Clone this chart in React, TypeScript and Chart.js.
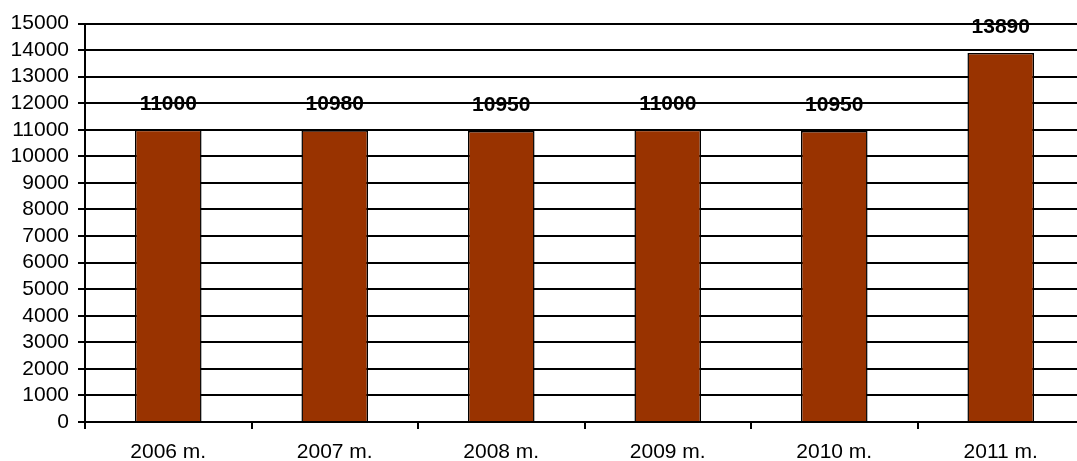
import React, { useEffect, useRef } from "react";
import { Chart, registerables } from "chart.js";

Chart.register(...registerables);

const categories = ["2006 m.", "2007 m.", "2008 m.", "2009 m.", "2010 m.", "2011 m."];
const values = [11000, 10980, 10950, 11000, 10950, 13890];
const valueLabels = ["11000", "10980", "10950", "11000", "10950", "13890"];
const yMin = 0;
const yMax = 15000;
const yStep = 1000;

const FONT = "'Liberation Sans', Arial, sans-serif";

const labelPlugin = {
  id: "valueLabels",
  afterDatasetsDraw(chart: any) {
    const ctx = chart.ctx;
    const meta = chart.getDatasetMeta(0);
    ctx.save();
    ctx.font = `bold 21px ${FONT}`;
    ctx.fillStyle = "#000";
    ctx.textAlign = "center";
    ctx.textBaseline = "middle";
    meta.data.forEach((bar: any, i: number) => {
      ctx.fillText(valueLabels[i], bar.x, bar.y - 26);
    });
    ctx.restore();
  },
};

export default function App() {
  const ref = useRef<HTMLCanvasElement>(null);
  useEffect(() => {
    if (!ref.current) return;
    const chart = new Chart(ref.current, {
      type: "bar",
      data: {
        labels: categories,
        datasets: [
          {
            data: values,
            backgroundColor: "#993300",
            borderColor: "#000",
            borderWidth: 1.5,
            categoryPercentage: 1,
            barPercentage: 0.4,
          },
        ],
      },
      options: {
        responsive: false,
        animation: false,
        layout: { padding: { top: 23.5, right: 1, left: 0, bottom: 0 } },
        plugins: { legend: { display: false }, tooltip: { enabled: false } },
        scales: {
          x: {
            grid: {
              offset: true,
              drawOnChartArea: false,
              color: "#000",
              lineWidth: 2,
              tickLength: 7,
            },
            border: { color: "#000", width: 2 },
            ticks: { color: "#000", font: { family: FONT, size: 21 }, padding: 11, maxRotation: 0 },
            afterFit: (s: any) => {
              s.height = 39;
            },
          },
          y: {
            min: yMin,
            max: yMax,
            grid: { color: "#000", lineWidth: 2, tickLength: 7 },
            border: { color: "#000", width: 2 },
            ticks: {
              stepSize: yStep,
              autoSkip: false,
              color: "#000",
              font: { family: FONT, size: 21 },
              padding: 9,
              callback: (v: any) => String(v),
            },
            afterFit: (s: any) => {
              s.width = 85;
            },
          },
        },
      },
      plugins: [labelPlugin],
    });
    return () => chart.destroy();
  }, []);
  return (
    <div
      style={{
        position: "fixed",
        left: 0,
        top: 0,
        width: 1077,
        height: 461,
        overflow: "hidden",
        background: "#fff",
      }}
    >
      <canvas ref={ref} width={1085} height={461} style={{ width: 1085, height: 461 }} />
    </div>
  );
}
